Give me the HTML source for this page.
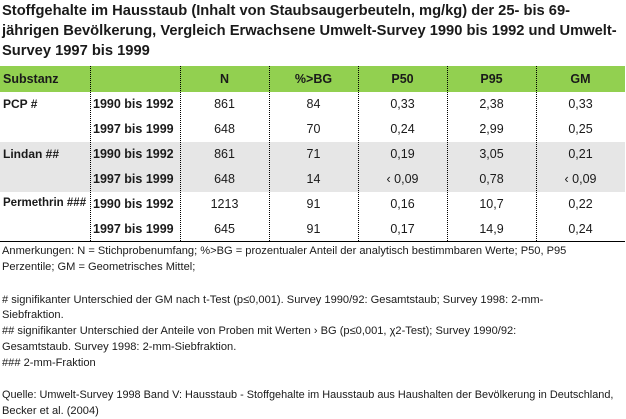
<!DOCTYPE html>
<html><head><meta charset="utf-8"><style>
body{margin:0;width:626px;height:419px;background:#fff;position:relative;overflow:hidden;font-family:"Liberation Sans",sans-serif;color:#1a1a1a}
.t{position:absolute;left:2px;font-weight:bold;font-size:14.7px;white-space:nowrap}
.n{position:absolute;left:2px;font-size:11.1px;white-space:nowrap}
.c{position:absolute;font-size:12.5px;white-space:nowrap;text-align:center}
.s{font-size:12px}
.b{font-weight:bold}
.v{position:absolute;top:66px;height:175px;border-left:1px dotted #000;width:0}
</style></head><body>
<div class="t" style="top:3px">Stoffgehalte im Hausstaub (Inhalt von Staubsaugerbeuteln, mg/kg) der 25- bis 69-</div>
<div class="t" style="top:23px">jährigen Bevölkerung, Vergleich Erwachsene Umwelt-Survey 1990 bis 1992 und Umwelt-</div>
<div class="t" style="top:43px">Survey 1997 bis 1999</div>
<div style="position:absolute;left:0;top:66px;width:625px;height:26px;background:#92d050"></div>
<div style="position:absolute;left:0;top:142px;width:625px;height:50px;background:#e6e6e6"></div>
<div style="position:absolute;left:0;top:241px;width:625px;border-top:1px solid #000"></div>
<div class="v" style="left:90px"></div><div class="v" style="left:180px"></div><div class="v" style="left:269px"></div><div class="v" style="left:358px"></div><div class="v" style="left:447px"></div><div class="v" style="left:536px"></div>
<div class="c b" style="left:3px;top:72px">Substanz</div>
<div class="c b" style="left:180px;width:89px;top:72px">N</div>
<div class="c b" style="left:269px;width:89px;top:72px">%&gt;BG</div>
<div class="c b" style="left:358px;width:89px;top:72px">P50</div>
<div class="c b" style="left:447px;width:89px;top:72px">P95</div>
<div class="c b" style="left:536px;width:89px;top:72px">GM</div>

<div class="c b s" style="left:3px;top:97px">PCP #</div>
<div class="c b s" style="left:3px;top:147px">Lindan ##</div>
<div class="c b s" style="left:3px;top:197px;font-size:11.5px">Permethrin ###</div>

<div class="c b" style="left:93px;top:97px">1990 bis 1992</div>
<div class="c b" style="left:93px;top:122px">1997 bis 1999</div>
<div class="c b" style="left:93px;top:147px">1990 bis 1992</div>
<div class="c b" style="left:93px;top:172px">1997 bis 1999</div>
<div class="c b" style="left:93px;top:197px">1990 bis 1992</div>
<div class="c b" style="left:93px;top:222px">1997 bis 1999</div>

<div class="c" style="left:180px;width:89px;top:97px">861</div>
<div class="c" style="left:180px;width:89px;top:122px">648</div>
<div class="c" style="left:180px;width:89px;top:147px">861</div>
<div class="c" style="left:180px;width:89px;top:172px">648</div>
<div class="c" style="left:180px;width:89px;top:197px">1213</div>
<div class="c" style="left:180px;width:89px;top:222px">645</div>

<div class="c" style="left:269px;width:89px;top:97px">84</div>
<div class="c" style="left:269px;width:89px;top:122px">70</div>
<div class="c" style="left:269px;width:89px;top:147px">71</div>
<div class="c" style="left:269px;width:89px;top:172px">14</div>
<div class="c" style="left:269px;width:89px;top:197px">91</div>
<div class="c" style="left:269px;width:89px;top:222px">91</div>

<div class="c" style="left:358px;width:89px;top:97px">0,33</div>
<div class="c" style="left:358px;width:89px;top:122px">0,24</div>
<div class="c" style="left:358px;width:89px;top:147px">0,19</div>
<div class="c" style="left:358px;width:89px;top:172px">‹ 0,09</div>
<div class="c" style="left:358px;width:89px;top:197px">0,16</div>
<div class="c" style="left:358px;width:89px;top:222px">0,17</div>

<div class="c" style="left:447px;width:89px;top:97px">2,38</div>
<div class="c" style="left:447px;width:89px;top:122px">2,99</div>
<div class="c" style="left:447px;width:89px;top:147px">3,05</div>
<div class="c" style="left:447px;width:89px;top:172px">0,78</div>
<div class="c" style="left:447px;width:89px;top:197px">10,7</div>
<div class="c" style="left:447px;width:89px;top:222px">14,9</div>

<div class="c" style="left:536px;width:89px;top:97px">0,33</div>
<div class="c" style="left:536px;width:89px;top:122px">0,25</div>
<div class="c" style="left:536px;width:89px;top:147px">0,21</div>
<div class="c" style="left:536px;width:89px;top:172px">‹ 0,09</div>
<div class="c" style="left:536px;width:89px;top:197px">0,22</div>
<div class="c" style="left:536px;width:89px;top:222px">0,24</div>

<div class="n" style="top:245px">Anmerkungen: N = Stichprobenumfang; %&gt;BG = prozentualer Anteil der analytisch bestimmbaren Werte; P50, P95</div>
<div class="n" style="top:261px">Perzentile; GM = Geometrisches Mittel;</div>
<div class="n" style="top:294px"># signifikanter Unterschied der GM nach t-Test (p≤0,001). Survey 1990/92: Gesamtstaub; Survey 1998: 2-mm-</div>
<div class="n" style="top:309px">Siebfraktion.</div>
<div class="n" style="top:325px">## signifikanter Unterschied der Anteile von Proben mit Werten › BG (p≤0,001, χ2-Test); Survey 1990/92:</div>
<div class="n" style="top:341px">Gesamtstaub. Survey 1998: 2-mm-Siebfraktion.</div>
<div class="n" style="top:357px">### 2-mm-Fraktion</div>
<div class="n" style="top:389px;font-size:10.9px">Quelle: Umwelt-Survey 1998 Band V: Hausstaub - Stoffgehalte im Hausstaub aus Haushalten der Bevölkerung in Deutschland,</div>
<div class="n" style="top:405px">Becker et al. (2004)</div>
</body></html>
